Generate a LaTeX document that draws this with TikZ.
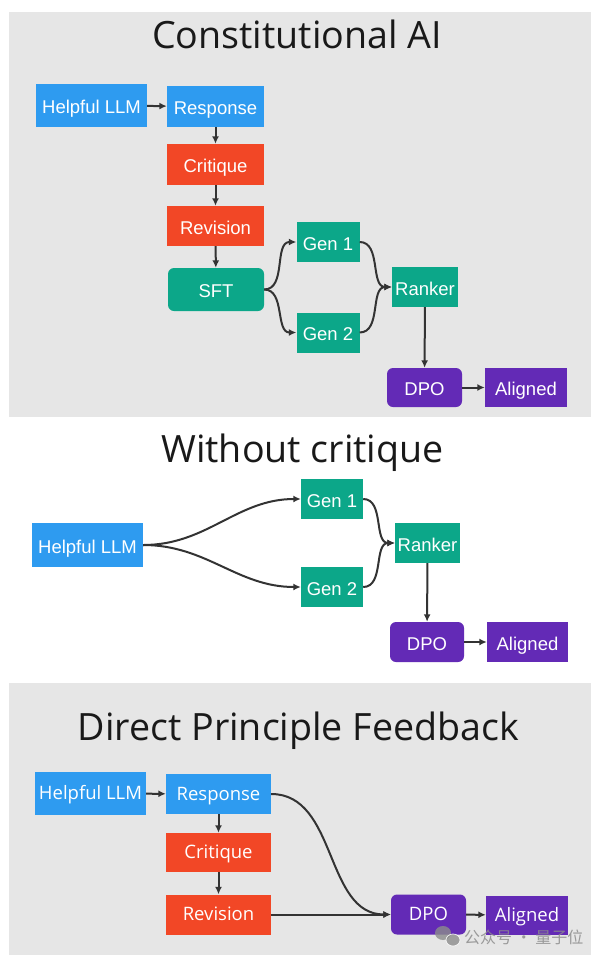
\documentclass[tikz,border=0pt]{standalone}
\usepackage{fontspec}
\setmainfont{Liberation Sans}
\newfontfamily\titlefont{Open Sans}
\newfontfamily\cjkfont{Noto Sans CJK SC}
\usetikzlibrary{arrows.meta}
\definecolor{llmblue}{RGB}{46,155,240}
\definecolor{critred}{RGB}{242,71,38}
\definecolor{genteal}{RGB}{12,167,137}
\definecolor{dpopurple}{RGB}{99,42,182}
\definecolor{panelgray}{RGB}{230,230,230}
\definecolor{linegray}{RGB}{51,51,51}
\definecolor{markgray}{RGB}{140,140,140}

\begin{document}
\begin{tikzpicture}[x=1pt,y=-1pt,
	box/.style={text=white,inner sep=0pt,text height=16pt,text depth=0pt,
		font=\fontsize{18.5}{20}\selectfont},
	bluebox/.style={box,fill=llmblue},
	redbox/.style={box,fill=critred},
	tealbox/.style={box,fill=genteal},
	purplebox/.style={box,fill=dpopurple},
	roundbox/.style={rounded corners=6pt},
	dpfbox/.style={text height=12.5pt,font=\titlefont\fontsize{18.5}{20}\selectfont},
	heading/.style={anchor=base,font=\titlefont\fontsize{37.6}{40}\selectfont,text=black!90},
	flow/.style={-{Latex[length=7.5pt,width=7pt]},line width=2pt,draw=linegray}]
	% Page and panels
	\useasboundingbox[fill=white] (0,0) rectangle (596,958);
	\fill[panelgray] (9,12) rectangle (591,417);
	\fill[panelgray] (9,683) rectangle (591,955);
	% Titles
	\node[heading] (title1) at (297,48.5) {Constitutional AI};
	\node[heading] (title2) at (302.5,462.5) {Without critique};
	\node[heading] (title3) at (298.5,740) {Direct Principle Feedback};
	
	% Constitutional AI
	\node[bluebox,minimum width=111pt,minimum height=43pt] (help1) at (91.5,105.5) {Helpful LLM};
	\node[bluebox,minimum width=97pt,minimum height=41pt] (resp1) at (215.5,106.5) {Response};
	\node[redbox,minimum width=97pt,minimum height=41pt] (crit1) at (215.5,164.5) {Critique};
	\node[redbox,minimum width=97pt,minimum height=40pt] (rev1) at (215.5,226) {Revision};
	\node[tealbox,roundbox,minimum width=96pt,minimum height=43pt] (sft1) at (216,289.5) {SFT};
	\node[tealbox,minimum width=63pt,minimum height=40pt] (gena1) at (328,242) {Gen 1};
	\node[tealbox,minimum width=63pt,minimum height=40pt] (genb1) at (328,332.5) {Gen 2};
	\node[tealbox,minimum width=66pt,minimum height=40pt] (rank1) at (425,287) {Ranker};
	\node[purplebox,roundbox,minimum width=75pt,minimum height=39pt] (dpo1) at (424.5,387.5) {DPO};
	\node[purplebox,minimum width=82pt,minimum height=39pt] (algn1) at (526,387.5) {Aligned};
	\draw[flow] (help1) -- (resp1);
	\draw[flow] (resp1) -- (crit1);
	\draw[flow] (crit1) -- (rev1);
	\draw[flow] (rev1) -- (sft1);
	\draw[flow] (sft1.east) to[out=0,in=180] (gena1.west);
	\draw[flow] (sft1.east) to[out=0,in=180] (genb1.west);
	\draw[flow] (gena1.east) to[out=0,in=180] (rank1.west);
	\draw[flow] (genb1.east) to[out=0,in=180] (rank1.west);
	\draw[flow] (rank1) -- (dpo1);
	\draw[flow] (dpo1) -- (algn1);
	
	% Without critique
	\node[bluebox,minimum width=111pt,minimum height=44pt] (help2) at (87.5,545) {Helpful LLM};
	\node[tealbox,minimum width=62pt,minimum height=40pt] (gena2) at (332,499) {Gen 1};
	\node[tealbox,minimum width=62pt,minimum height=40pt] (genb2) at (332,587) {Gen 2};
	\node[tealbox,minimum width=65pt,minimum height=40pt] (rank2) at (427.5,543) {Ranker};
	\node[purplebox,roundbox,minimum width=74pt,minimum height=40pt] (dpo2) at (427,642) {DPO};
	\node[purplebox,minimum width=81pt,minimum height=40pt] (algn2) at (527.5,642) {Aligned};
	\draw[flow] (help2.east) to[out=0,in=180] (gena2.west);
	\draw[flow] (help2.east) to[out=0,in=180] (genb2.west);
	\draw[flow] (gena2.east) to[out=0,in=180] (rank2.west);
	\draw[flow] (genb2.east) to[out=0,in=180] (rank2.west);
	\draw[flow] (rank2) -- (dpo2);
	\draw[flow] (dpo2) -- (algn2);
	
	% Direct Principle Feedback
	\node[bluebox,dpfbox,minimum width=111pt,minimum height=43pt] (help3) at (90.5,793.5) {Helpful LLM};
	\node[bluebox,dpfbox,minimum width=105pt,minimum height=40pt] (resp3) at (218.5,794) {Response};
	\node[redbox,dpfbox,minimum width=105pt,minimum height=39pt] (crit3) at (218.5,852.5) {Critique};
	\node[redbox,dpfbox,minimum width=105pt,minimum height=40pt] (rev3) at (218.5,914.5) {Revision};
	\node[purplebox,dpfbox,roundbox,minimum width=75pt,minimum height=40pt] (dpo3) at (428.5,914.5) {DPO};
	\node[purplebox,dpfbox,minimum width=82pt,minimum height=39pt] (algn3) at (527,915) {Aligned};
	\draw[flow] (help3) -- (resp3);
	\draw[flow] (resp3) -- (crit3);
	\draw[flow] (crit3) -- (rev3);
	\draw[flow] (resp3.east) to[out=0,in=180] (dpo3.west);
	\draw[flow] (rev3) -- (dpo3);
	\draw[flow] (dpo3) -- (algn3);
	
	% Watermark
	\fill[markgray,opacity=.8] (443,933) ellipse (8 and 7);
	\fill[markgray,opacity=.8,draw=white,line width=.8pt] (453,940) ellipse (7 and 6);
	\node[anchor=west,text=markgray,opacity=.85,inner sep=0pt,font=\cjkfont\fontsize{16}{16}\selectfont] (mark) at (464,937) {公众号 · 量子位};
\end{tikzpicture}
\end{document}
